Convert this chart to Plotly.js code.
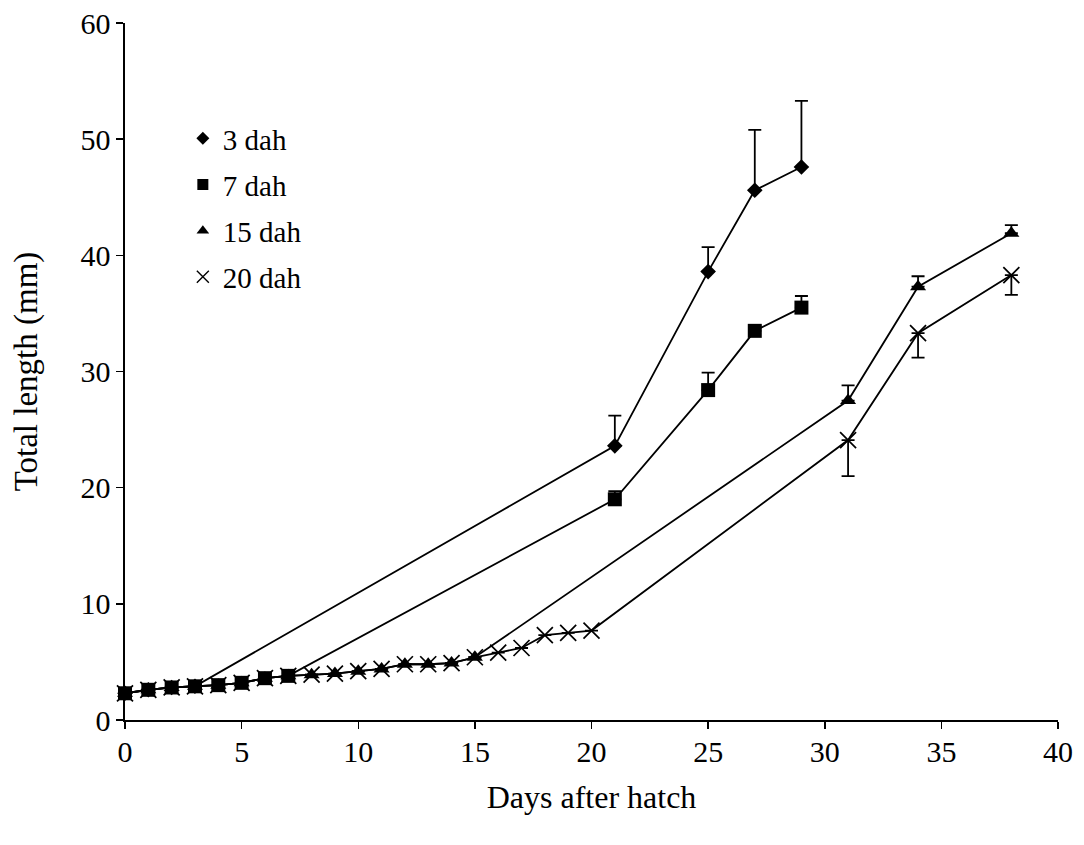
<!DOCTYPE html>
<html>
<head>
<meta charset="utf-8">
<script src="https://cdn.plot.ly/plotly-3.0.1.min.js"></script>
<style>html,body{margin:0;padding:0;background:#fff;}#chart{width:1084px;height:845px;}</style>
</head>
<body>
<div id="chart"></div>
<script>
// Shared early growth (days 0-20 after hatch)
const earlyDays   = [0,1,2,3,4,5,6,7,8,9,10,11,12,13,14,15,16,17,18,19,20];
const earlyLength = [2.3,2.6,2.8,2.9,3.0,3.2,3.6,3.8,3.9,4.0,4.2,4.4,4.8,4.8,4.9,5.4,5.8,6.2,7.3,7.5,7.7];

const seriesNames = ["3 dah","7 dah","15 dah","20 dah"];
const transferDay = [3, 7, 15, 20];

const lateDays_3  = [21,25,27,29];
const lateLen_3   = [23.6,38.6,45.6,47.6];
const lateErr_3   = [2.6,2.1,5.2,5.7];

const lateDays_7  = [21,25,27,29];
const lateLen_7   = [19.0,28.4,33.5,35.5];
const lateErr_7   = [0.7,1.5,0.4,1.0];

const lateDays_15 = [31,34,38];
const lateLen_15  = [27.5,37.3,41.9];
const lateErr_15  = [1.3,0.9,0.7];

const lateDays_20 = [31,34,38];
const lateLen_20  = [24.1,33.3,38.3];
const lateErr_20  = [3.1,2.1,1.7];

const lateDays = [lateDays_3, lateDays_7, lateDays_15, lateDays_20];
const lateLen  = [lateLen_3, lateLen_7, lateLen_15, lateLen_20];
const lateErr  = [lateErr_3, lateErr_7, lateErr_15, lateErr_20];

const symbols = ["diamond","square","triangle-up","x-thin"];
const sizes   = [12, 14, 14, 16];
const legendSizes = [10, 11, 11, 12];

function build(i) {
  const n = transferDay[i] + 1;
  const xs = earlyDays.slice(0, n).concat(lateDays[i]);
  const ys = earlyLength.slice(0, n).concat(lateLen[i]);
  const errs = new Array(n).fill(0).concat(lateErr[i]);
  const zeros = errs.map(() => 0);
  const down = i === 3;
  return {
    x: xs, y: ys, type: "scatter", mode: "lines+markers",
    name: seriesNames[i], showlegend: false, cliponaxis: false,
    line: {color: "#000", width: 1.8},
    marker: {symbol: symbols[i], size: sizes[i], color: "#000",
             line: {color: "#000", width: i === 3 ? 1.7 : 0}},
    error_y: {type: "data", symmetric: false,
              array: down ? zeros : errs, arrayminus: down ? errs : zeros,
              color: "#000", thickness: 1.8, width: 6.5}
  };
}

// Draw order: 20, 15, 3, 7 so squares sit on top of the shared early points
const traces = [build(3), build(2), build(0), build(1)];

// Legend-only entries (markers only, like the original)
seriesNames.forEach((nm, i) => {
  traces.push({
    x: [null], y: [null], type: "scatter", mode: "markers", name: nm,
    legendgroup: "g" + i, legendrank: i + 1,
    marker: {symbol: symbols[i], size: legendSizes[i], color: "#000",
             line: {color: "#000", width: i === 3 ? 1.4 : 0}}
  });
});

const serif = "Liberation Serif, Times New Roman, serif";
const layout = {
  width: 1084, height: 845,
  margin: {l: 125, r: 26, t: 23, b: 125},
  paper_bgcolor: "#fff", plot_bgcolor: "#fff",
  font: {family: serif, color: "#000", size: 30},
  showlegend: true,
  legend: {x: 0.062, y: 0.871, xanchor: "left", yanchor: "top",
           font: {family: serif, size: 29, color: "#000"},
           tracegroupgap: 5.5, bgcolor: "rgba(0,0,0,0)", itemsizing: "trace"},
  xaxis: {range: [0, 40], dtick: 5, tick0: 0, showgrid: false, zeroline: false,
          showline: true, linecolor: "#000", linewidth: 1.6,
          ticks: "outside", ticklen: 7, tickwidth: 1.5, tickcolor: "#000",
          ticklabelstandoff: -3,
          tickfont: {family: serif, size: 30, color: "#000"},
          title: {text: "Days after hatch", font: {family: serif, size: 32, color: "#000"}, standoff: 19}},
  yaxis: {range: [0, 60], dtick: 10, tick0: 0, showgrid: false, zeroline: false,
          showline: true, linecolor: "#000", linewidth: 1.6,
          ticks: "outside", ticklen: 7, tickwidth: 1.5, tickcolor: "#000",
          tickfont: {family: serif, size: 30, color: "#000"},
          title: {text: "Total length (mm)", font: {family: serif, size: 33, color: "#000"}, standoff: 33}}
};

Plotly.newPlot("chart", traces, layout, {displayModeBar: false, staticPlot: true});
</script>
</body>
</html>
